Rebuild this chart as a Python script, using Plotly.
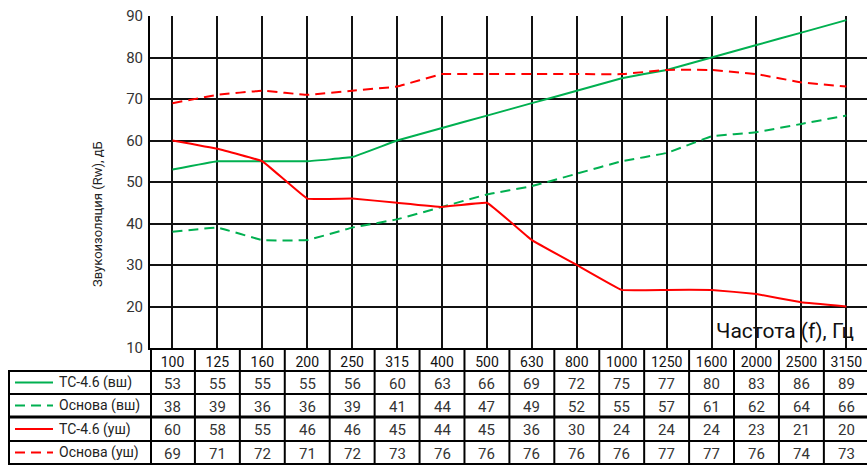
import plotly.graph_objects as go

freqs = ["100", "125", "160", "200", "250", "315", "400", "500", "630", "800",
         "1000", "1250", "1600", "2000", "2500", "3150"]
series_names = ["ТС-4.6 (вш)", "Основа (вш)", "ТС-4.6 (уш)", "Основа (уш)"]
tc_vsh = [53, 55, 55, 55, 56, 60, 63, 66, 69, 72, 75, 77, 80, 83, 86, 89]
osn_vsh = [38, 39, 36, 36, 39, 41, 44, 47, 49, 52, 55, 57, 61, 62, 64, 66]
tc_ush = [60, 58, 55, 46, 46, 45, 44, 45, 36, 30, 24, 24, 24, 23, 21, 20]
osn_ush = [69, 71, 72, 71, 72, 73, 76, 76, 76, 76, 76, 77, 77, 76, 74, 73]
series_values = [tc_vsh, osn_vsh, tc_ush, osn_ush]
colors = ["#00b050", "#00b050", "#ff0000", "#ff0000"]
dashes = ["solid", "10px,6px", "solid", "10px,6px"]

W, H = 867, 465
ML, MR, MT, MB = 150, 0, 16, 117
PW, PH = W - ML - MR, H - MT - MB
XR = [-0.5, 15.46]

def py(pix):  # pixel y -> paper y
    return (H - MB - pix) / PH

def px(pix):  # pixel x -> paper x
    return (pix - ML) / PW

FONT = "Roboto, DejaVu Sans, sans-serif"

fig = go.Figure()
for name, vals, c, d in zip(series_names, series_values, colors, dashes):
    fig.add_trace(go.Scatter(x=freqs, y=vals, mode="lines", name=name,
                             line=dict(color=c, width=2, dash=d, shape="spline", smoothing=0.2),
                             showlegend=False))

shapes = []
annotations = []
row_bounds = [348, 371, 394, 417, 441, 464]
for i, yb in enumerate(row_bounds[1:], start=1):
    w = 3 if i == 3 else 2
    shapes.append(dict(type="line", xref="paper", yref="paper", x0=px(8), x1=1.0,
                       y0=py(yb), y1=py(yb), line=dict(color="#000", width=w)))
for i in range(len(freqs) - 1):
    shapes.append(dict(type="line", xref="x", yref="paper", x0=i + 0.5, x1=i + 0.5,
                       y0=py(348), y1=py(464), line=dict(color="#000", width=2)))
shapes.append(dict(type="line", xref="paper", yref="paper", x0=px(151), x1=px(151),
                   y0=py(348), y1=py(464), line=dict(color="#000", width=2)))
shapes.append(dict(type="line", xref="paper", yref="paper", x0=px(9), x1=px(9),
                   y0=py(371), y1=py(464), line=dict(color="#000", width=2)))

for r, (name, vals, c, d) in enumerate(zip(series_names, series_values, colors, dashes)):
    yc = (row_bounds[r + 1] + row_bounds[r + 2]) / 2
    shapes.append(dict(type="line", xref="paper", yref="paper", x0=px(15), x1=px(53),
                       y0=py(yc), y1=py(yc), line=dict(color=c, width=2, dash=d)))
    annotations.append(dict(xref="paper", yref="paper", x=px(57), y=py(yc), text=name,
                            showarrow=False, xanchor="left", yanchor="middle",
                            font=dict(family=FONT, size=14, color="#222")))
    for i, v in enumerate(vals):
        annotations.append(dict(xref="x", yref="paper", x=i, y=py(yc + 1), text=str(v),
                                showarrow=False, xanchor="center", yanchor="middle",
                                font=dict(family=FONT, size=15, color="#333")))

annotations.append(dict(xref="paper", yref="paper", x=px(97), y=py(214),
                        text="Звукоизоляция (Rw), дБ", textangle=-90, showarrow=False,
                        xanchor="center", yanchor="middle",
                        font=dict(family=FONT, size=13, color="#222")))
annotations.append(dict(xref="paper", yref="paper", x=px(714), y=py(331),
                        text="Частота (f), Гц", showarrow=False,
                        xanchor="left", yanchor="middle",
                        font=dict(family=FONT, size=21, color="#111")))

fig.update_layout(
    width=W, height=H,
    margin=dict(l=ML, r=MR, t=MT, b=MB),
    paper_bgcolor="white", plot_bgcolor="white",
    shapes=shapes, annotations=annotations,
    xaxis=dict(type="category", range=XR, showgrid=True, gridcolor="#111", gridwidth=2,
               showline=True, linecolor="#000", linewidth=2, ticks="",
               tickfont=dict(family=FONT, size=14, color="#111"), zeroline=False,
               fixedrange=True),
    yaxis=dict(range=[10, 90], dtick=10, showgrid=True, gridcolor="#111", gridwidth=2,
               showline=True, linecolor="#000", linewidth=2, ticks="",
               tickfont=dict(family=FONT, size=15, color="#333"), zeroline=False,
               ticklabelstandoff=2, fixedrange=True),
)

fig.write_html("out.html", config={"displayModeBar": False},
               post_script="document.body.style.margin='0';document.body.style.overflow='hidden';")
